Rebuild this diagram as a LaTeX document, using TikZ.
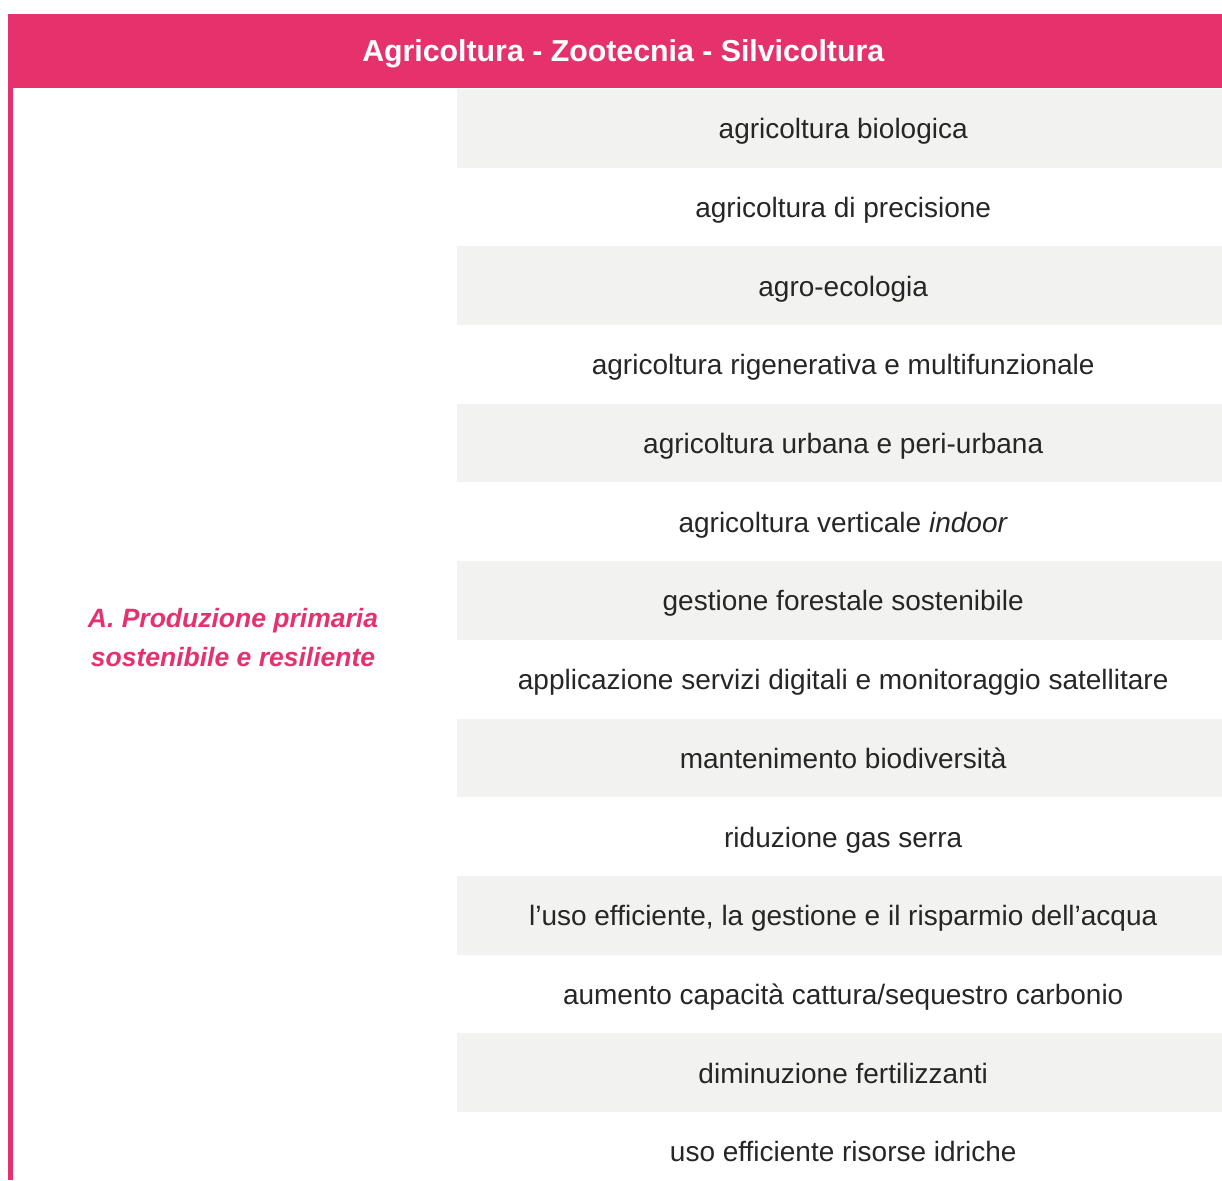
\documentclass[tikz,border=0pt]{standalone}
\usepackage{fontspec}
\setmainfont{Liberation Sans}
\usetikzlibrary{positioning}

\definecolor{rosa}{HTML}{E6326C}
\definecolor{grigio}{HTML}{F2F2F1}

\tikzset{
    riga/.style={anchor=north west, minimum width=772pt, minimum height=78.7pt,
        inner sep=0pt, text height=21pt, text depth=0pt, text=black!85,
        font=\fontsize{28}{32}\selectfont},
    testata/.style={anchor=north west, fill=rosa, minimum width=1230pt,
        minimum height=74.5pt, inner sep=0pt, text height=22pt, text depth=0pt,
        text=white, font=\bfseries\fontsize{30.3}{34}\selectfont},
    sezione/.style={align=center, text=rosa,
        font=\bfseries\itshape\fontsize{26.5}{39}\selectfont}
}

\begin{document}
\begin{tikzpicture}[x=1pt, y=-1pt]
    \useasboundingbox (0,0) rectangle (1222,1180);
    \node[testata] (titolo) at (8,13.5) {Agricoltura - Zootecnia - Silvicoltura};
    \fill[rosa] (8,88) rectangle (13,1180);
    \node[sezione] (areaA) at (233,638) {A. Produzione primaria\\sostenibile e resiliente};
    % righe alternate
    \foreach \testo [count=\i] in {agricoltura biologica,
        agricoltura di precisione,
        agro-ecologia,
        agricoltura rigenerativa e multifunzionale,
        agricoltura urbana e peri-urbana,
        agricoltura verticale \textit{indoor},
        gestione forestale sostenibile,
        applicazione servizi digitali e monitoraggio satellitare,
        mantenimento biodiversità,
        riduzione gas serra,
        {l'uso efficiente, la gestione e il risparmio dell'acqua},
        aumento capacità cattura/sequestro carbonio,
        diminuzione fertilizzanti,
        uso efficiente risorse idriche}
    {
        \ifodd\i \def\sfondo{grigio}\else\def\sfondo{white}\fi
        \node[riga, fill=\sfondo] (r\i) at (457,{88.7+(\i-1)*78.7}) {\testo};
    }
\end{tikzpicture}
\end{document}
